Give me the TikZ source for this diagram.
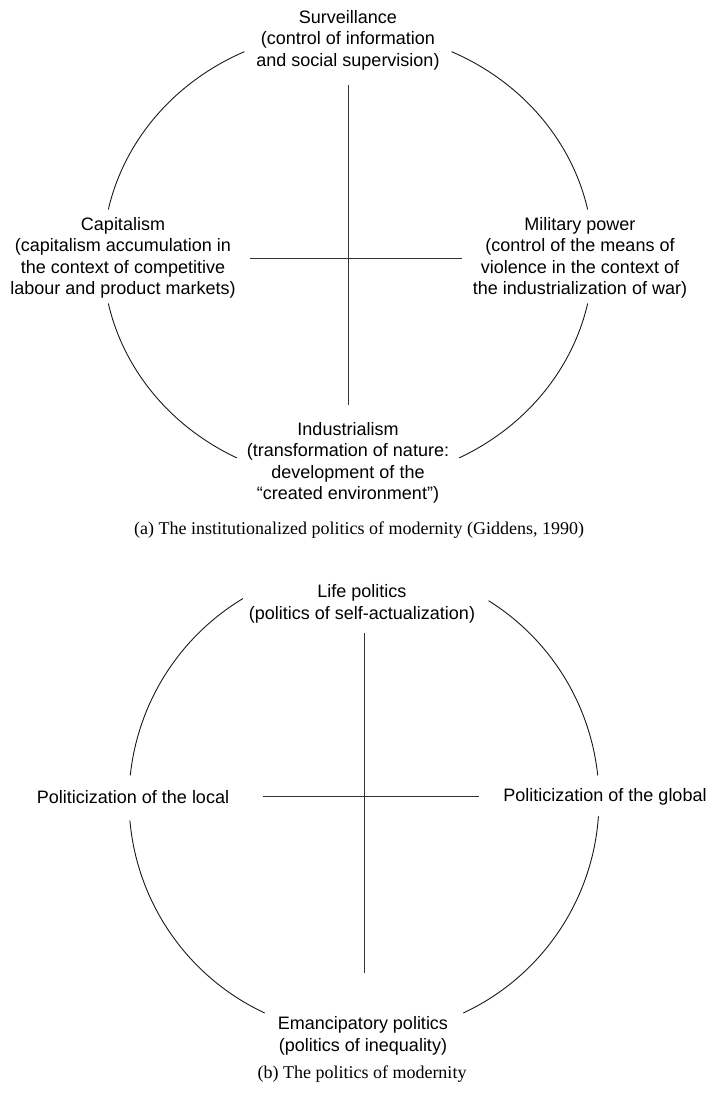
\documentclass[tikz,border=0pt]{standalone}
\usepackage{fontspec}
\setmainfont{Liberation Serif}
\setsansfont{Liberation Sans}
\usetikzlibrary{arrows}

\begin{document}
\begin{tikzpicture}[x=1pt,y=1pt,semithick]

  \tikzstyle{pole}=[align=center,inner sep=1pt,
                    font=\sffamily\fontsize{18}{21.5}\selectfont]
  \tikzstyle{rim}=[line width=0.9pt,black!90]
  \tikzstyle{axis}=[line width=1pt,black!80]
  \tikzstyle{caption}=[font=\rmfamily\fontsize{18}{21}\selectfont]

  \useasboundingbox (0,0) rectangle (713,1093);

  % (a) institutionalized politics
  \coordinate (ca) at (348,836.5);
  \node[pole] (surv) at (348,1053) {Surveillance\\(control of information\\and social supervision)};
  \node[pole] (cap)  at (123,835)  {Capitalism\\(capitalism accumulation in\\the context of competitive\\labour and product markets)};
  \node[pole] (mil)  at (580,835)  {Military power\\(control of the means of\\violence in the context of\\the industrialization of war)};
  \node[pole] (ind)  at (348,630)  {Industrialism\\(transformation of nature:\\development of the\\“created environment”)};
  \node[caption] (capa) at (359,563) {(a) The institutionalized politics of modernity (Giddens, 1990)};

  \coordinate (an) at (348,1008);
  \coordinate (as) at (348,688);
  \coordinate (aw) at (250,834);
  \coordinate (ae) at (462,834);
  \draw[axis] (an) -- (as);
  \draw[axis] (aw) -- (ae);

  \draw[rim] (ca) ++(12:245 and 226) arc[start angle=12,end angle=65,x radius=245,y radius=226];
  \draw[rim] (ca) ++(115:245 and 226) arc[start angle=115,end angle=168,x radius=245,y radius=226];
  \draw[rim] (ca) ++(192:245 and 226) arc[start angle=192,end angle=243,x radius=245,y radius=226];
  \draw[rim] (ca) ++(297:245 and 226) arc[start angle=297,end angle=348,x radius=245,y radius=226];

  % (b) politics of modernity
  \coordinate (cb) at (364,293);
  \node[pole] (life)   at (362,489) {Life politics\\(politics of self-actualization)};
  \node[pole] (local)  at (133,296) {Politicization of the local};
  \node[pole] (global) at (605,296) {Politicization of the global};
  \node[pole] (eman)   at (363,57)  {Emancipatory politics\\(politics of inequality)};
  \node[caption] (capb) at (362,19) {(b) The politics of modernity};

  \coordinate (bn) at (364,460);
  \coordinate (bs) at (364,120);
  \coordinate (bw) at (263,296);
  \coordinate (be) at (479,296);
  \draw[axis] (bn) -- (bs);
  \draw[axis] (bw) -- (be);

  \draw[rim] (cb) ++(6:235) arc[start angle=6,end angle=58,radius=235];
  \draw[rim] (cb) ++(121:235) arc[start angle=121,end angle=174,radius=235];
  \draw[rim] (cb) ++(185:235) arc[start angle=185,end angle=245,radius=235];
  \draw[rim] (cb) ++(295:235) arc[start angle=295,end angle=356,radius=235];
\end{tikzpicture}
\end{document}
